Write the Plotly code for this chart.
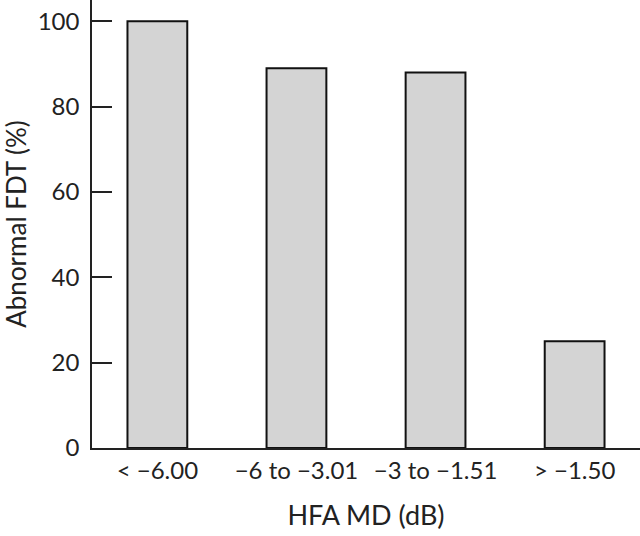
import plotly.graph_objects as go

categories = ["< \u22126.00", "\u22126 to \u22123.01", "\u22123 to \u22121.51", "> \u22121.50"]
values = [100, 89, 88, 25]
y_ticks = [0, 20, 40, 60, 80, 100]

font_family = "Lato, 'Open Sans', sans-serif"

fig = go.Figure(go.Bar(
    x=categories, y=values, width=0.43,
    marker=dict(color="#d4d4d4", line=dict(color="#111111", width=2)),
))

fig.update_layout(
    width=640, height=536,
    margin=dict(l=92, r=0, t=0, b=88, autoexpand=False),
    paper_bgcolor="white", plot_bgcolor="white",
    font=dict(family=font_family, size=24, color="#222222"),
    showlegend=False,
)
fig.update_xaxes(
    range=[-0.47, 3.47], showline=True, linecolor="#222222", linewidth=1.5,
    ticks="", showgrid=False, tickfont=dict(size=24),
    automargin=False,
    title=dict(text="HFA MD (dB)", font=dict(size=27), standoff=24),
)
fig.update_yaxes(
    range=[0, 105], showline=True, linecolor="#222222", linewidth=1.5,
    ticks="inside", ticklen=20, tickwidth=1.5, tickcolor="#222222",
    tickvals=y_ticks, showgrid=False, zeroline=False, tickfont=dict(size=24),
    ticklabelstandoff=6, automargin=False,
    title=dict(text="Abnormal FDT (%)", font=dict(size=26), standoff=18),
)

fig.write_html("out.html", config={"displayModeBar": False},
               post_script="document.body.style.margin='0px';")
